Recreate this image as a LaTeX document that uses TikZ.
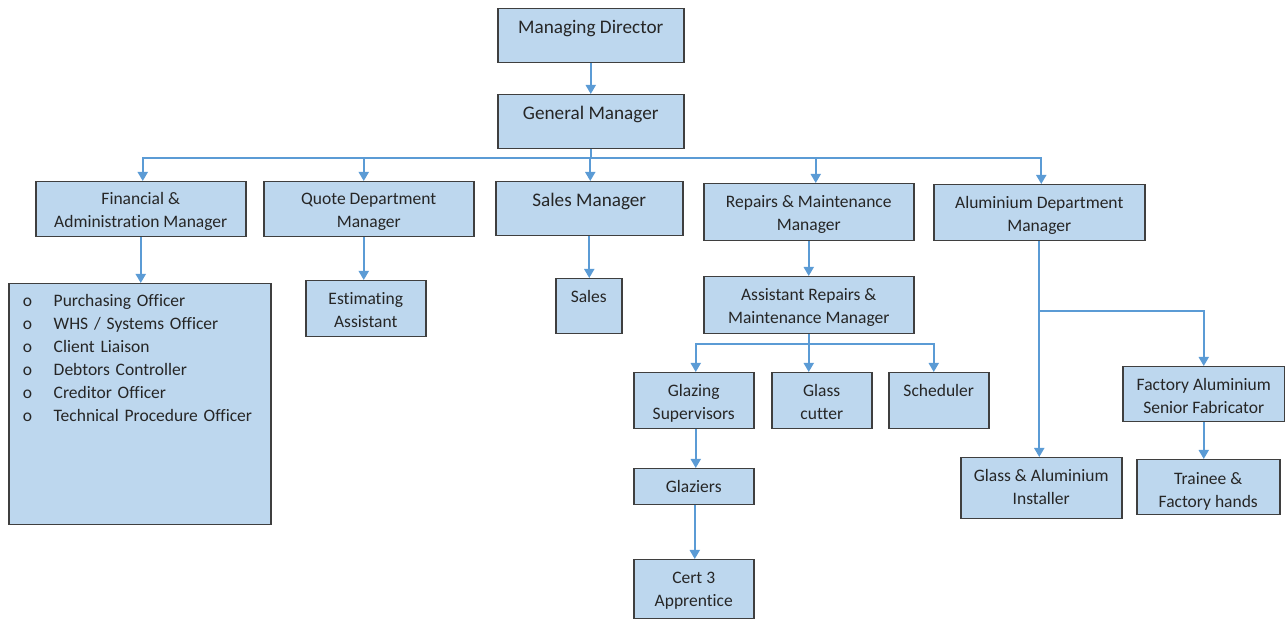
\documentclass[tikz,border=0pt]{standalone}
\usepackage{fontspec}
\setmainfont{Carlito}[Ligatures=NoCommon]
\usetikzlibrary{arrows.meta}

\definecolor{boxfill}{HTML}{BDD7EE}
\definecolor{boxline}{HTML}{3F3F3F}
\definecolor{linkblue}{HTML}{5B9BD5}
\definecolor{textgray}{HTML}{262626}

\newcommand{\bigfont}{\fontsize{9.6}{12}\selectfont}
\newcommand{\smallfont}{\fontsize{8.75}{11.5}\selectfont}

\tikzset{
  box/.style={draw=boxline, fill=boxfill, line width=0.75pt, align=center,
    inner sep=0pt, text=textgray, anchor=north west},
  link/.style={draw=linkblue, line width=0.9pt, -{Triangle[width=5pt,length=4.5pt]}},
}

\begin{document}
\begin{tikzpicture}[x=0.5pt, y=-0.5pt]
  \useasboundingbox (0,0) rectangle (1285,619);

  % Top levels (larger type); \b = last baseline below the top edge
  \foreach \nm/\x/\y/\w/\h/\b/\txt in {
      md/497/8/186/54/25/{Managing Director},
      gm/497/94/186/54/25/{General Manager},
      sm/495/181/187/54/25/{Sales Manager}} {
    \pgfmathsetlengthmacro\bw{\w*0.5pt}
    \pgfmathsetlengthmacro\bh{\h*0.5pt}
    \pgfmathsetlengthmacro\bt{max(2*\b-\h,0)*0.5pt}
    \pgfmathsetlengthmacro\bd{max(\h-2*\b,0)*0.5pt}
    \node[box, font=\bigfont, minimum width=\bw, minimum height=\bh,
          text height=\bt, text depth=\bd] (\nm) at (\x,\y) {\txt};
  }

  % Departments and staff
  \foreach \nm/\x/\y/\w/\h/\b/\txt in {
      fam/35/181/210/55/46/{Financial \&\\Administration Manager},
      qdm/263/181/210/55/46/{Quote Department\\Manager},
      rmm/703/183/210/57/46.5/{Repairs \& Maintenance\\Manager},
      adm/933/184/211/56/47/{Aluminium Department\\Manager},
      ea/305/280/120/56/46.5/{Estimating\\Assistant},
      sales/555/278/66/55/24/{Sales},
      armm/703/276/210/57/47/{Assistant Repairs \&\\Maintenance Manager},
      gs/633/372/120/56/47/{Glazing\\Supervisors},
      gc/771/372/100/56/47/{Glass\\cutter},
      sched/888/372/100/56/24/{Scheduler},
      glz/633/468/120/36/23.3/{Glaziers},
      cert/633/559/120/59/47/{Cert 3\\Apprentice},
      fasf/1122/366/162/55/46.5/{Factory Aluminium\\Senior Fabricator},
      gai/960/457/161/61/47/{Glass \& Aluminium\\Installer},
      trn/1136/459/143/55/47.5/{Trainee \&\\Factory hands}} {
    \pgfmathsetlengthmacro\bw{\w*0.5pt}
    \pgfmathsetlengthmacro\bh{\h*0.5pt}
    \pgfmathsetlengthmacro\bt{max(2*\b-\h,0)*0.5pt}
    \pgfmathsetlengthmacro\bd{max(\h-2*\b,0)*0.5pt}
    \node[box, font=\smallfont, minimum width=\bw, minimum height=\bh,
          text height=\bt, text depth=\bd] (\nm) at (\x,\y) {\txt};
  }

  % Finance staff list
  \node[box, font=\smallfont, align=left, minimum width=131pt, minimum height=120.5pt,
        text width=117pt, inner xsep=7pt, text height=0pt, text depth=97.5pt]
        (falist) at (8,283) {
    \makebox[15.5pt][l]{o}Purchasing Officer\\
    \makebox[15.5pt][l]{o}WHS / Systems Officer\\
    \makebox[15.5pt][l]{o}Client Liaison\\
    \makebox[15.5pt][l]{o}Debtors Controller\\
    \makebox[15.5pt][l]{o}Creditor Officer\\
    \makebox[15.5pt][l]{o}Technical Procedure Officer};

  % Connectors
  \coordinate (bus) at (590,158);
  \coordinate (abus) at (808,344);
  \coordinate (split) at (adm.south |- 0,311);

  \draw[link] (md.south) -- (md.south |- gm.north);
  \foreach \c/\dx in {fam/1pt,qdm/-2.5pt,sm/0.5pt,rmm/3.5pt,adm/1pt}
    \draw[link] (gm.south) |- (bus) -| ([xshift=\dx]\c.north);
  \draw[link] (fam.south) -- (fam.south |- falist.north);
  \draw[link] ([xshift=-2.5pt]qdm.south) -- ([xshift=-2.5pt]qdm.south |- ea.north);
  \draw[link] (sm.south) -- (sm.south |- sales.north);
  \draw[link] (rmm.south) -- (rmm.south |- armm.north);
  \foreach \c/\dx in {gs/1pt,sched/-2.5pt}
    \draw[link] (armm.south) |- (abus) -| ([xshift=\dx]\c.north);
  \draw[link] (armm.south) -- (armm.south |- gc.north);
  \draw[link] ([xshift=1pt]gs.south) -- ([xshift=1pt]gs.south |- glz.north);
  \draw[link] ([xshift=0.5pt]glz.south) -- ([xshift=0.5pt]glz.south |- cert.north);
  \draw[link] (adm.south) -- (adm.south |- gai.north);
  \draw[link] (split) -| (fasf.north);
  \draw[link] (fasf.south) -- (fasf.south |- trn.north);
\end{tikzpicture}
\end{document}
